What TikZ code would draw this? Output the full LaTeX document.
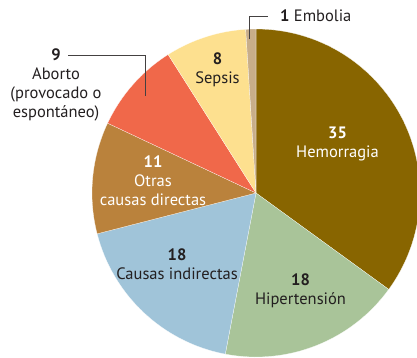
\documentclass[tikz,border=0pt]{standalone}
\usepackage{fontspec}
\setmainfont{PT Sans}
\definecolor{hemo}{HTML}{886500}
\definecolor{hiper}{HTML}{A9C499}
\definecolor{indir}{HTML}{A0C4D9}
\definecolor{otras}{HTML}{BA823C}
\definecolor{abort}{HTML}{F0684A}
\definecolor{seps}{HTML}{FDE08F}
\definecolor{embo}{HTML}{C8AE8A}
\definecolor{txt}{HTML}{231F20}
\begin{document}
\begin{tikzpicture}[x=1pt,y=-1pt,
  slice/.style={draw=white,line width=0.2pt},
  lbl/.style={align=center,font=\fontsize{16.5}{19}\selectfont,text=txt,inner sep=0pt},
  wlbl/.style={lbl,text=white},
  leader/.style={draw=txt!85,line width=0.8pt}]
\useasboundingbox (0,0) rectangle (417,357);
\coordinate (c) at (256,193);
\def\R{164}
\fill[hemo,slice] (c) -- ++(-90:\R) arc[start angle=-90,end angle=36,radius=\R] -- cycle;
\fill[hiper,slice] (c) -- ++(36:\R) arc[start angle=36,end angle=100.8,radius=\R] -- cycle;
\fill[indir,slice] (c) -- ++(100.8:\R) arc[start angle=100.8,end angle=165.6,radius=\R] -- cycle;
\fill[otras,slice] (c) -- ++(165.6:\R) arc[start angle=165.6,end angle=205.2,radius=\R] -- cycle;
\fill[abort,slice] (c) -- ++(205.2:\R) arc[start angle=205.2,end angle=237.6,radius=\R] -- cycle;
\fill[seps,slice] (c) -- ++(237.6:\R) arc[start angle=237.6,end angle=266.4,radius=\R] -- cycle;
\fill[embo,slice] (c) -- ++(266.4:\R) arc[start angle=266.4,end angle=270,radius=\R] -- cycle;
% labels
\node[wlbl] (hemo) at (337.5,143.5) {\textbf{35}\\Hemorragia};
\node[lbl] (hiper) at (300.5,291) {\textbf{18}\\Hipertensión};
\node[lbl] (indir) at (177,264) {\textbf{18}\\Causas indirectas};
\node[wlbl] (otras) at (153,181) {\textbf{11}\\Otras\\causas directas};
\node[lbl] (seps) at (217.5,69.5) {\textbf{8}\\Sepsis};
\node[lbl] (abort) at (56,84.5) {\textbf{9}\\Aborto\\(provocado o\\espontáneo)};
\node[lbl,anchor=base west] (embo) at (280,21) {\textbf{1} Embolia};
% leaders
\coordinate (e1) at (249,39);
\coordinate (e2) at (249,16);
\coordinate (e3) at (268,16);
\draw[leader] (e1) -- (e2) -- (e3);
\coordinate (a1) at (68,55);
\coordinate (a2) at (145,55);
\coordinate (a3) at (145,96);
\draw[leader] (a1) -- (a2) -- (a3);
\end{tikzpicture}
\end{document}
